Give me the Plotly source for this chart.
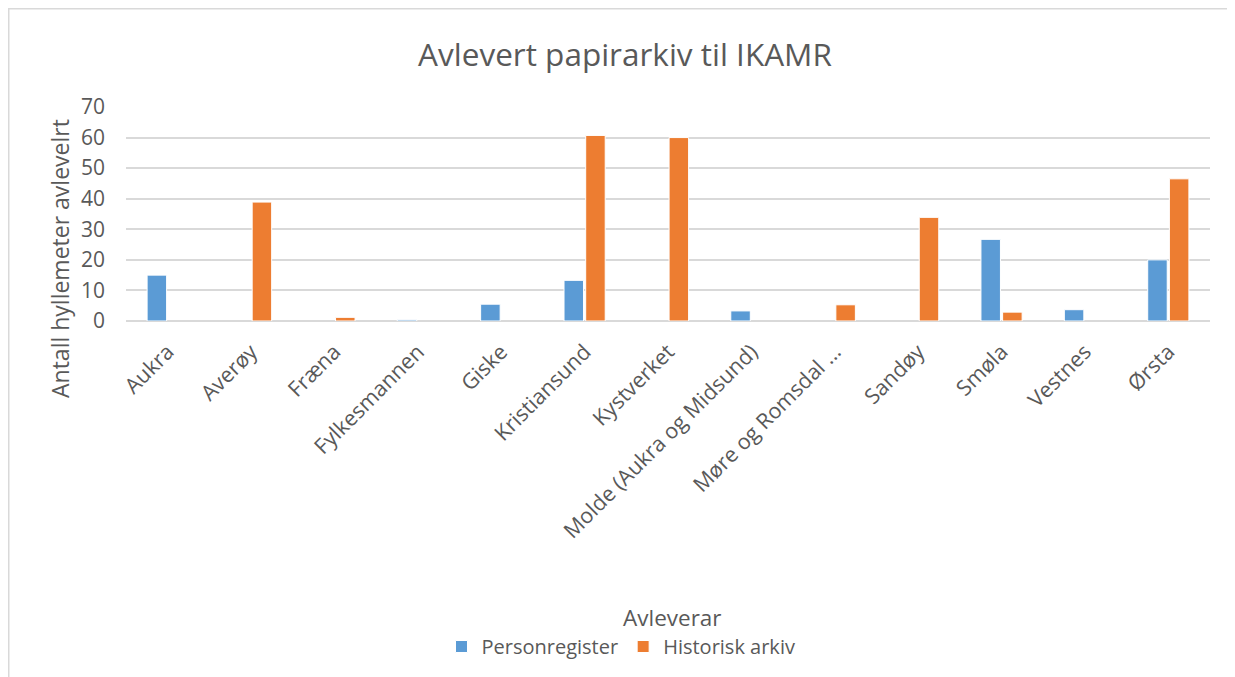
import plotly.graph_objects as go

categories = ["Aukra", "Averøy", "Fræna", "Fylkesmannen", "Giske", "Kristiansund",
              "Kystverket", "Molde (Aukra og Midsund)", "Møre og Romsdal ...", "Sandøy",
              "Smøla", "Vestnes", "Ørsta"]
personregister = [15.0, None, None, 0.4, 5.5, 13.3, None, 3.3, None, None, 26.7, 3.7, 20.0]
historisk_arkiv = [None, 38.9, 1.2, None, None, 60.7, 60.0, None, 5.3, 33.9, 2.9, None, 46.5]
y_ticks = [0, 10, 20, 30, 40, 50, 60, 70]

FONT = "Open Sans"
GRAY = "#595959"

# page body margin offset (8px) compensation
OFF = 8
W, H = 1235 - OFF, 677 - OFF
L, R, T, B = 126 - OFF, 1210 - OFF, 107 - OFF, 321 - OFF
pw, ph = R - L, B - T


def px(x):
    return (x - OFF - L) / pw


def py(y):
    return (B - (y - OFF)) / ph


fig = go.Figure()
fig.add_trace(go.Bar(x=categories, y=personregister, name="Personregister",
                     marker=dict(color="#5B9BD5", line=dict(color="#ffffff", width=1))))
fig.add_trace(go.Bar(x=categories, y=historisk_arkiv, name="Historisk arkiv",
                     marker=dict(color="#ED7D31", line=dict(color="#ffffff", width=1))))

fig.update_layout(
    width=W, height=H,
    margin=dict(l=L, r=W - R, t=T, b=H - B, pad=0),
    paper_bgcolor="white", plot_bgcolor="white",
    font=dict(family=FONT, color=GRAY, size=19),
    barmode="group", bargap=0.48, bargroupgap=0.1,
    title=dict(text="Avlevert papirarkiv til IKAMR", x=(625 - OFF) / W, xanchor="center",
               y=1 - (55 - OFF) / H, yanchor="middle",
               font=dict(size=31.5, color=GRAY, family=FONT)),
    xaxis=dict(tickangle=-45, tickfont=dict(size=21.5, color=GRAY, family=FONT),
               showgrid=False, showline=False, ticks="", automargin=False,
               ticklabelstandoff=13),
    yaxis=dict(range=[0, 70], tickvals=y_ticks, showgrid=True, gridcolor="#d9d9d9",
               gridwidth=1.5, zeroline=True, zerolinecolor="#d9d9d9", zerolinewidth=1.5,
               tickfont=dict(size=21, color=GRAY, family=FONT), ticks="",
               ticklabelstandoff=20, automargin=False),
    legend=dict(orientation="h", x=px(621), xanchor="center", y=py(627), yanchor="top",
                font=dict(size=20, color=GRAY, family=FONT),
                itemwidth=30, traceorder="normal", bgcolor="rgba(0,0,0,0)"),
    annotations=[
        dict(text="Avleverar", xref="paper", yref="paper", x=px(672), y=py(617),
             xanchor="center", yanchor="middle", showarrow=False,
             font=dict(size=22.5, color=GRAY, family=FONT)),
        dict(text="Antall hyllemeter avlevelrt", xref="paper", yref="paper",
             x=px(60), y=py(259), xanchor="center", yanchor="middle", textangle=-90,
             showarrow=False, font=dict(size=23, color=GRAY, family=FONT)),
    ],
    shapes=[dict(type="rect", xref="paper", yref="paper",
                 x0=px(OFF + 0.75), x1=px(1260), y0=py(700), y1=py(OFF + 0.75),
                 line=dict(color="#d9d9d9", width=1.5), fillcolor="rgba(0,0,0,0)",
                 layer="below")],
)

fig.write_html("out.html")
